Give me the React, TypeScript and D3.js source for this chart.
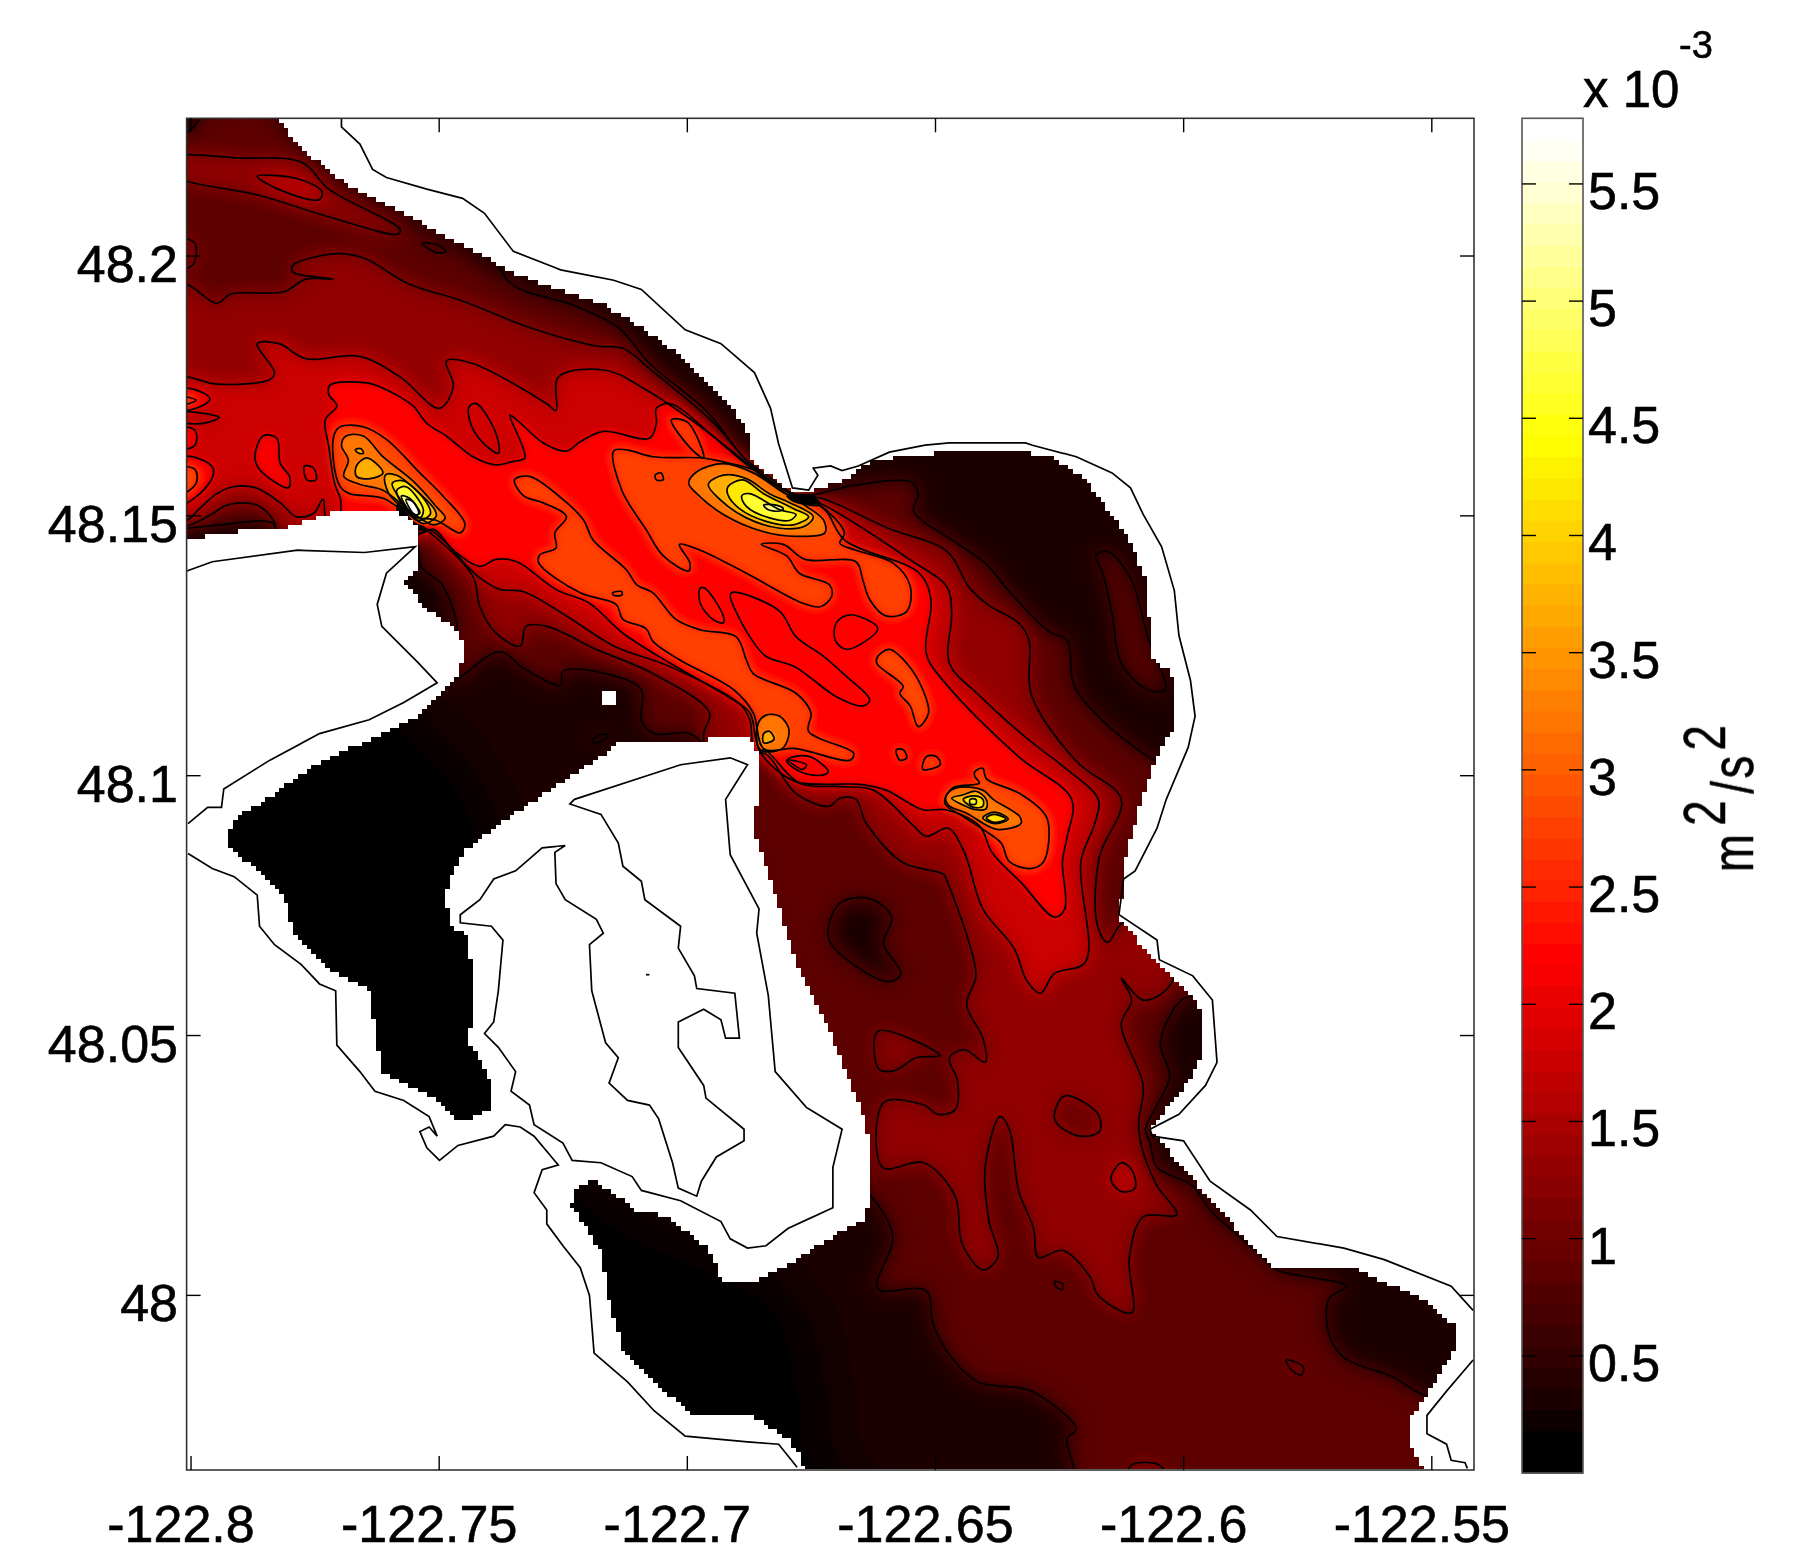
import React, { useMemo } from "react";
import * as d3 from "d3";

type P = [number, number];

// All rings are in model-grid units (1 unit = 1/4302.4 deg lon, 1/4505 deg lat).
const xTicks = [-122.8, -122.75, -122.7, -122.65, -122.6, -122.55];
const xTickLabels = ["-122.8", "-122.75", "-122.7", "-122.65", "-122.6", "-122.55"];
const yTicks = [48.2, 48.15, 48.1, 48.05, 48];
const yTickLabels = ["48.2", "48.15", "48.1", "48.05", "48"];
const barTicks = [0.5, 1, 1.5, 2, 2.5, 3, 3.5, 4, 4.5, 5, 5.5];
const barTickLabels = ["0.5", "1", "1.5", "2", "2.5", "3", "3.5", "4", "4.5", "5", "5.5"];

const waterRing: P[] = [[155,95],[236,95],[242,104],[261,129],[300,160],[347,183],[378,201],[409,216],[443,236],[490,253],[521,263],[556,284],[594,311],[629,346],[648,373],[652,400],[687,427],[701,427],[732,416],[751,402],[786,395],[825,392],[891,392],[914,397],[941,416],[960,441],[980,470],[993,501],[999,570],[1014,582],[1019,593],[1019,628],[1003,655],[991,690],[987,702],[976,743],[970,797],[1003,834],[1038,867],[1042,880],[1042,917],[1022,950],[995,979],[1003,987],[1026,1012],[1042,1032],[1080,1074],[1107,1101],[1177,1101],[1235,1127],[1264,1152],[1264,1165],[1239,1206],[1221,1231],[1221,1252],[1239,1280],[697,1280],[695,1264],[683,1247],[652,1227],[629,1227],[598,1225],[567,1198],[540,1169],[528,1128],[521,1086],[496,1045],[501,1026],[517,1024],[552,1049],[579,1055],[614,1082],[627,1113],[652,1113],[672,1103],[737,1063],[751,1057],[753,1037],[755,1012],[751,975],[732,925],[717,888],[693,842],[652,714],[658,693],[658,652],[648,640],[580,642],[540,642],[517,659],[490,676],[440,710],[401,739],[387,772],[389,801],[407,813],[410,871],[407,904],[426,937],[424,962],[409,970],[393,970],[378,954],[331,929],[320,859],[289,842],[254,809],[246,776],[223,755],[196,731],[203,710],[231,693],[273,663],[323,640],[362,621],[397,586],[403,563],[397,547],[370,528],[350,505],[364,489],[364,458],[350,446],[331,441],[292,443],[246,458],[192,462],[155,469]];
const islandRing: P[] = [[521,600],[526,598],[531,598],[536,602],[536,608],[531,612],[526,612],[521,608]];

const coastNorth: P[] = [[296,103],[296,110],[312,125],[323,147],[335,154],[370,164],[401,172],[420,185],[445,218],[486,234],[532,243],[556,251],[594,286],[625,298],[654,323],[668,354],[675,385],[687,423],[701,425],[709,412],[705,406],[720,404],[730,408],[744,404],[771,392],[802,386],[823,384],[889,384],[895,386],[933,396],[964,410],[980,423],[991,446],[1007,474],[1018,512],[1022,551],[1032,590],[1036,621],[1030,648],[1011,693],[1003,718],[984,755],[974,762],[970,793],[1003,815],[1005,832],[1034,846],[1051,867],[1055,921],[1045,941],[1022,966],[997,979],[999,985],[1026,989],[1049,1024],[1084,1049],[1107,1072],[1165,1082],[1200,1092],[1258,1115],[1277,1136]];
const coastEast: P[] = [[1277,1179],[1254,1206],[1237,1227],[1237,1243],[1254,1252],[1258,1266],[1270,1268],[1272,1273]];
const coastWestA: P[] = [[162,495],[184,487],[258,477],[316,479],[360,474],[335,497],[327,524],[331,543],[362,574],[379,592],[350,609],[320,624],[277,636],[234,659],[194,684],[192,700],[180,700],[163,714]];
const coastWestB: P[] = [[163,740],[184,753],[203,760],[223,776],[225,803],[238,819],[261,836],[277,853],[291,859],[292,906],[312,929],[325,946],[350,954],[372,968],[379,985],[372,977],[364,981],[370,995],[381,1006],[397,993],[428,985],[438,975],[451,977],[463,985],[484,1010],[470,1014],[463,1034],[474,1049],[474,1061],[488,1080],[503,1099],[511,1123],[515,1173],[544,1198],[567,1223],[594,1245],[648,1250],[675,1252],[691,1272]];
const landLoop: P[] = [[490,733],[470,735],[447,755],[428,762],[416,780],[399,793],[399,800],[426,803],[436,815],[432,859],[428,886],[420,896],[432,908],[447,929],[443,946],[459,958],[463,975],[488,991],[496,1006],[521,1008],[548,1020],[556,1032],[590,1041],[625,1059],[633,1074],[648,1082],[664,1080],[683,1065],[722,1047],[722,1012],[730,979],[699,960],[672,929],[666,863],[656,809],[658,788],[633,741],[629,693],[648,663],[633,657],[590,663],[498,693],[494,697],[521,706],[536,731],[540,751],[556,764],[559,780],[590,803],[588,822],[602,846],[604,857],[637,861],[641,900],[629,900],[625,884],[610,875],[588,886],[588,908],[610,941],[612,952],[645,979],[645,989],[621,1003],[608,1024],[604,1037],[588,1030],[583,1008],[571,970],[563,958],[544,954],[528,939],[536,917],[525,904],[513,859],[511,819],[523,809],[517,797],[490,780],[482,766],[481,739],[490,733]];
const speck: P[] = [[560,845],[563,845]];

const shadeRing: P[] = [[150,110],[1290,110],[1290,1290],[740,1290],[715,1200],[690,1120],[500,1010],[440,800],[435,720],[420,680],[390,640],[350,610],[340,560],[360,480],[150,470]];
const coastShadeNorth: P[] = [[236,95],[262,133],[289,157],[331,184],[378,207],[443,246],[458,232],[400,198],[340,168],[280,130],[252,95]];

const c05Main: P[] = [[150,118],[163,114],[172,104],[172,95],[236,88],[300,148],[350,172],[420,210],[443,246],[498,265],[536,284],[563,315],[614,358],[645,397],[665,412],[690,429],[705,429],[739,421],[790,418],[796,428],[792,443],[828,470],[855,489],[875,513],[910,548],[925,555],[931,594],[956,625],[995,656],[1010,665],[1000,700],[990,790],[1020,830],[1045,860],[1024,867],[1006,904],[1014,933],[1003,958],[993,979],[997,991],[1003,1012],[1034,1028],[1049,1049],[1072,1070],[1095,1090],[1107,1101],[1167,1115],[1152,1126],[1152,1157],[1165,1177],[1208,1194],[1231,1208],[1290,1230],[1290,1290],[930,1290],[931,1274],[925,1247],[933,1239],[894,1206],[848,1198],[825,1177],[809,1148],[803,1119],[761,1117],[774,1072],[755,1037],[745,1030],[612,650],[598,636],[567,636],[556,625],[556,598],[525,584],[488,582],[486,594],[455,580],[433,565],[396,589],[392,589],[392,549],[396,546],[384,508],[365,491],[360,470],[240,470],[237,454],[191,455],[162,458],[150,458]];
const c05East: P[] = [[950,482],[960,478],[980,501],[995,552],[1010,598],[995,598],[972,575],[964,532],[956,497]];
const c05Spot: P[] = [[513,643],[520,637],[527,637],[524,641],[516,644]];
const c05HoleA: P[] = [[728,783],[754,779],[773,795],[766,818],[781,844],[771,851],[734,832],[718,812]];
const c05HoleB: P[] = [[366,211],[378,212],[387,218],[378,219]];

const c10Main: P[] = [[150,247],[163,247],[188,263],[200,255],[246,253],[265,242],[289,242],[254,236],[254,230],[292,220],[316,224],[354,246],[401,261],[459,284],[517,300],[540,302],[567,323],[618,366],[648,400],[672,420],[690,430],[712,432],[770,458],[821,478],[840,509],[856,524],[883,540],[892,555],[894,602],[933,660],[972,693],[953,743],[951,801],[960,817],[972,801],[990,795],[1020,830],[1012,857],[991,867],[972,848],[981,867],[972,888],[991,941],[987,975],[991,999],[1003,1028],[1020,1053],[991,1055],[979,1090],[981,1138],[952,1123],[945,1107],[921,1084],[900,1090],[896,1065],[883,1032],[875,979],[867,968],[854,1012],[857,1057],[865,1090],[852,1101],[834,1078],[828,1037],[801,1008],[765,1012],[766,956],[801,958],[813,966],[828,962],[830,937],[823,917],[836,910],[854,921],[852,900],[838,871],[846,846],[840,817],[821,764],[818,758],[783,748],[751,714],[742,693],[728,692],[719,699],[690,688],[662,653],[640,660],[612,648],[610,636],[615,618],[566,584],[517,563],[474,543],[456,543],[451,560],[430,549],[416,526],[410,500],[373,462],[364,456],[350,470],[245,470],[237,451],[225,439],[211,436],[194,439],[185,445],[162,456],[150,456]];
const c10Top: P[] = [[150,137],[207,137],[262,141],[285,164],[347,199],[345,203],[285,188],[227,170],[150,151]];
const c10Edge: P[] = [[155,207],[169,211],[167,230],[155,232]];
const c10IslandA: P[] = [[761,894],[815,915],[794,917],[776,928],[762,927]];
const c10IslandB: P[] = [[914,1111],[921,1113],[921,1118],[916,1116]];
const c10IslandC: P[] = [[1115,1179],[1130,1185],[1128,1192],[1119,1187]];
const c10IslandD: P[] = [[981,1270],[1005,1270],[1010,1280],[978,1280]];
const c10Hole: P[] = [[923,950],[952,966],[953,981],[937,985],[917,975],[914,966]];

const c15Main: P[] = [[163,327],[188,333],[234,329],[238,323],[223,298],[242,298],[265,311],[312,309],[347,327],[381,354],[393,335],[387,313],[409,315],[474,350],[482,356],[484,327],[525,321],[560,338],[606,369],[648,402],[683,429],[708,435],[790,486],[821,509],[825,532],[823,575],[848,602],[890,640],[921,664],[952,693],[949,714],[937,747],[941,834],[914,844],[902,861],[890,850],[879,822],[852,788],[836,739],[822,718],[803,725],[792,716],[757,685],[728,682],[693,679],[662,650],[655,655],[652,642],[650,624],[641,610],[581,578],[532,560],[491,534],[454,513],[433,511],[416,501],[404,490],[384,468],[371,459],[362,464],[285,455],[280,433],[272,445],[257,448],[243,436],[222,423],[202,422],[188,428],[173,441],[162,451],[150,451],[150,327]];
const c15Top: P[] = [[223,153],[258,155],[279,166],[277,173],[246,166]];
const c15IslandA: P[] = [[972,1008],[981,1014],[984,1030],[972,1033],[963,1022]];
const c15EdgeHole: P[] = [[155,358],[190,362],[176,367],[155,365]];

const c20Main: P[] = [[286,334],[318,332],[335,338],[358,352],[370,367],[387,378],[410,396],[430,403],[445,400],[455,397],[442,360],[448,364],[471,384],[491,391],[503,383],[523,374],[563,380],[569,367],[569,354],[581,350],[618,378],[650,405],[687,428],[700,432],[716,443],[732,468],[797,497],[807,520],[803,567],[821,594],[883,656],[929,693],[925,726],[921,747],[923,788],[914,795],[886,766],[860,739],[849,716],[820,702],[800,702],[768,685],[745,680],[716,680],[688,677],[659,652],[650,618],[636,607],[581,575],[540,549],[511,523],[482,511],[448,487],[430,485],[416,491],[393,477],[376,459],[365,462],[350,455],[298,450],[295,432],[290,419],[285,387],[282,364],[292,352],[285,342]];
const c20HoleLoop: P[] = [[407,352],[413,350],[430,376],[432,393],[416,381],[407,364]];
const c20HoleBig: P[] = [[634,514],[641,514],[676,530],[690,552],[714,569],[731,584],[754,607],[748,612],[725,604],[689,578],[664,569],[650,552],[633,517]];
const c20HoleSmall: P[] = [[725,540],[737,533],[761,545],[734,563],[724,555]];
const c20HoleTail: P[] = [[685,657],[702,656],[718,669],[713,672],[696,670],[682,660]];
const c20BlobA: P[] = [[221,396],[228,378],[240,380],[243,402],[251,413],[250,423],[225,407]];
const c20BlobB: P[] = [[264,404],[272,406],[274,416],[266,416]];
const c20EdgeA: P[] = [[155,338],[170,338],[182,346],[170,354],[155,355]];
const c20EdgeB: P[] = [[155,371],[169,373],[169,386],[155,389]];
const c20EdgeC: P[] = [[155,397],[176,399],[185,407],[179,422],[155,438]];
const c10Tail: P[] = [[683,659],[699,663],[696,667],[688,663]];

const c25Tongue: P[] = [[446,416],[459,413],[488,433],[506,451],[514,468],[543,494],[552,507],[566,514],[586,537],[607,546],[638,552],[647,572],[653,584],[690,601],[703,618],[701,634],[740,653],[737,659],[690,649],[662,649],[653,618],[636,598],[589,572],[566,556],[560,545],[540,537],[534,524],[503,514],[467,488],[468,481],[482,475],[481,462],[491,448],[471,436],[454,430]];
const c25Core: P[] = [[532,391],[543,390],[566,396],[608,397],[625,400],[655,408],[680,425],[700,432],[716,442],[732,462],[728,471],[742,477],[774,488],[789,508],[786,530],[768,534],[754,520],[748,503],[742,487],[698,485],[679,472],[660,472],[682,482],[693,497],[719,507],[721,517],[711,526],[696,523],[647,497],[607,477],[589,472],[598,488],[597,495],[575,482],[560,459],[539,425]];
const c25Tip: P[] = [[582,364],[596,366],[610,397],[600,390]];
const c25Blob: P[] = [[761,569],[771,563],[786,575],[800,598],[805,618],[796,630],[789,612],[780,601],[783,595],[760,575]];
const c25DotA: P[] = [[777,650],[783,650],[786,657],[780,659]];
const c25DotB: P[] = [[803,656],[812,656],[815,663],[800,667]];
const c25DotC: P[] = [[568,412],[573,410],[575,416],[569,416]];
const c25DotD: P[] = [[531,514],[539,513],[539,516],[532,516]];
const c25Slit: P[] = [[607,510],[611,510],[627,534],[627,540],[618,537],[607,523]];
const c25West: P[] = [[290,376],[295,370],[315,370],[335,381],[364,410],[384,430],[403,454],[399,462],[378,451],[358,448],[332,432],[303,428],[295,422],[289,399]];
const c25East: P[] = [[845,669],[852,666],[855,675],[884,688],[907,708],[909,731],[904,748],[893,753],[875,747],[868,731],[855,721],[835,708],[819,696],[826,683],[849,679],[845,673]];
const c25EdgeA: P[] = [[155,344],[170,347],[155,351]];
const c25EdgeB: P[] = [[155,406],[169,407],[170,419],[155,429]];

const c30North: P[] = [[597,419],[604,409],[627,402],[653,410],[676,425],[699,439],[714,451],[715,462],[690,465],[662,461],[627,446],[604,428]];
const c30West: P[] = [[296,386],[300,378],[315,378],[332,396],[358,417],[378,439],[386,449],[376,455],[358,445],[332,425],[312,420],[298,413],[302,399]];
const c30East: P[] = [[820,690],[829,683],[852,685],[861,693],[884,708],[885,714],[864,719],[838,705],[822,698]];
const c30Tip: P[] = [[657,628],[664,620],[676,621],[684,633],[678,649],[659,650]];

const c35North: P[] = [[614,420],[627,412],[647,415],[667,428],[685,436],[705,448],[698,456],[676,458],[647,449],[624,433]];
const c35WestA: P[] = [[309,404],[318,397],[332,410],[321,415],[309,413]];
const c35WestDot: P[] = [[308,390],[313,389],[315,393],[311,393]];
const c35WestB: P[] = [[334,412],[344,412],[364,428],[377,442],[378,448],[367,454],[355,445],[337,428]];
const c35East: P[] = [[825,692],[835,689],[846,686],[855,693],[855,701],[846,702],[835,698]];
const c35EastB: P[] = [[852,709],[862,704],[874,710],[862,714]];
const c35Tip: P[] = [[662,636],[667,634],[671,641],[662,644]];

const c40North: P[] = [[631,422],[644,416],[662,428],[688,441],[701,448],[688,455],[664,452],[641,441],[631,429]];
const c40West: P[] = [[340,419],[350,417],[370,436],[373,446],[361,451],[347,433]];
const c40East: P[] = [[835,693],[844,690],[852,693],[852,699],[844,700]];
const c40EastB: P[] = [[855,709],[862,706],[872,710],[862,713]];

const c45North: P[] = [[643,430],[650,428],[676,442],[690,446],[685,451],[667,449],[647,439]];
const c45West: P[] = [[344,425],[352,422],[367,442],[364,449],[352,442]];
const c45East: P[] = [[841,693],[846,693],[846,697],[841,697]];

const c50North: P[] = [[662,438],[673,438],[679,441],[676,443],[666,442]];
const c50West: P[] = [[348,430],[355,432],[364,445],[358,446]];
const c55West: P[] = [[352,433],[358,435],[363,445],[360,447]];

const blackPinchA: P[] = [[682,430],[705,430],[711,438],[688,435]];
const blackPinchB: P[] = [[345,436],[358,452],[370,459],[360,459],[345,447]];

// [fill value in 1e-3 m^2/s^2, ring]
const contourTable: [number, P[]][] = [
  [0.85, c05Main], [0.8, c05East], [0.8, c05Spot], [0.35, c05HoleA], [0.35, c05HoleB],
  [1.3, c10Main], [1.3, c10Top], [1.25, c10Edge], [1.2, c10IslandA], [1.2, c10IslandB], [1.2, c10IslandC], [1.2, c10IslandD], [0.95, c10Hole],
  [1.78, c15Main], [1.75, c15Top], [1.7, c15IslandA], [1.4, c15EdgeHole],
  [2.2, c20Main], [1.85, c20HoleLoop], [1.8, c20HoleBig], [1.85, c20HoleSmall], [1.7, c20HoleTail], [1.0, c10Tail], [2.15, c20BlobA], [2.1, c20BlobB], [2.2, c20EdgeA], [2.15, c20EdgeB], [2.2, c20EdgeC],
  [2.75, c25Tongue], [2.75, c25Core], [2.7, c25Tip], [2.8, c25Blob], [2.7, c25DotA], [2.7, c25DotB], [2.7, c25DotC], [2.7, c25DotD], [2.35, c25Slit], [2.8, c25West], [2.8, c25East], [2.8, c25EdgeA], [2.8, c25EdgeB],
  [3.2, c30North], [3.2, c30West], [3.2, c30East], [3.2, c30Tip],
  [3.7, c35North], [3.7, c35WestA], [3.7, c35WestDot], [3.7, c35WestB], [3.7, c35East], [3.7, c35EastB], [3.7, c35Tip],
  [4.2, c40North], [4.2, c40West], [4.2, c40East], [4.2, c40EastB],
  [4.65, c45North], [4.65, c45West], [4.65, c45East],
  [5.1, c50North], [5.1, c50West], [5.7, c55West],
];

const W = 1809, H = 1548;
const FONT = "'Liberation Sans', Arial, sans-serif";
const lonOf = (g: number) => -122.8 + ((g - 165.6) / 1075.6) * 0.25;
const latOf = (g: number) => 48.2 - ((g - 222) / 901) * 0.2;
const x = d3.scaleLinear().domain([-122.80089, -122.5415]).range([186.6, 1474]);
const y = d3.scaleLinear().domain([48.2265, 47.9664]).range([118.3, 1470]);
const bar = d3.scaleLinear().domain([0, 5.78]).range([1473, 118.3]);
const heat = d3.scaleLinear<string>().domain([0.1, 2.2, 4.4, 5.7]).range(["#000000", "#ff0000", "#ffff00", "#ffffff"]).clamp(true);
const px = (p: P): [number, number] => [x(lonOf(p[0])), y(latOf(p[1]))];
const openLine = d3.line<P>().x((p) => px(p)[0]).y((p) => px(p)[1]);
const closedCurve = d3.line<P>().x((p) => px(p)[0]).y((p) => px(p)[1]).curve(d3.curveCatmullRomClosed.alpha(0.5));

function blockyWater(): string {
  const cell = 4;
  let d = "";
  for (let gy = 103; gy < 1273; gy += cell) {
    let start: number | null = null;
    for (let gx = 162; gx <= 1278; gx += cell) {
      const c: P = [gx + cell / 2, gy + cell / 2];
      const inside = gx < 1278 && d3.polygonContains(waterRing, c) && !d3.polygonContains(islandRing, c);
      if (inside && start === null) start = gx;
      if (!inside && start !== null) {
        const [x0, y0] = px([start, gy]);
        const [x1, y1] = px([Math.min(gx, 1277.4), Math.min(gy + cell, 1273.6)]);
        d += `M${Math.round(x0)} ${Math.round(y0)}H${Math.round(x1)}V${Math.round(y1)}H${Math.round(x0)}Z`;
        start = null;
      }
    }
  }
  return d;
}

export default function App() {
  const clip = useMemo(blockyWater, []);
  const rows = d3.range(64);
  const rowH = (bar(0) - bar(5.78)) / 64;
  const low = contourTable.filter((c) => c[0] < 2);
  const mid = contourTable.filter((c) => c[0] >= 2 && c[0] < 3);
  const high = contourTable.filter((c) => c[0] >= 3);
  const fx = x.range()[0], fy = y.range()[0], fw = x.range()[1] - fx, fh = y.range()[1] - fy;
  const ink = { stroke: "#000", strokeWidth: 0.6 };
  return (
    <svg width={W} height={H} viewBox={`0 0 ${W} ${H}`} style={{ position: "absolute", left: 0, top: 0, background: "#fff" }} fontFamily={FONT}>
      <defs>
        <clipPath id="water"><path d={clip} /></clipPath>
        <filter id="broad" filterUnits="userSpaceOnUse" x={0} y={0} width={W} height={H}><feGaussianBlur stdDeviation={32} /></filter>
        <filter id="softest" filterUnits="userSpaceOnUse" x={0} y={0} width={W} height={H}><feGaussianBlur stdDeviation={10} /></filter>
        <filter id="soft" filterUnits="userSpaceOnUse" x={0} y={0} width={W} height={H}><feGaussianBlur stdDeviation={5} /></filter>
        <filter id="softer" filterUnits="userSpaceOnUse" x={0} y={0} width={W} height={H}><feGaussianBlur stdDeviation={1.8} /></filter>
        <filter id="ink" filterUnits="userSpaceOnUse" x={0} y={0} width={W} height={H}><feGaussianBlur stdDeviation={0.55} /></filter>
      </defs>
      <g clipPath="url(#water)">
        <rect x={fx} y={fy} width={fw} height={fh} fill="#000" />
        <g filter="url(#broad)">
          <path d={closedCurve(shadeRing) || ""} fill={heat(0.32)} />
        </g>
        <g filter="url(#softest)">
          {low.map(([v, ring], i) => <path key={i} d={closedCurve(ring) || ""} fill={heat(v)} />)}
          <path d={closedCurve(coastShadeNorth) || ""} fill={heat(0.35)} />
        </g>
        <g filter="url(#soft)">
          {mid.map(([v, ring], i) => <path key={i} d={closedCurve(ring) || ""} fill={heat(v)} />)}
        </g>
        <g filter="url(#softer)">
          {high.map(([v, ring], i) => <path key={i} d={closedCurve(ring) || ""} fill={heat(v)} />)}
        </g>
        <g filter="url(#ink)">
          {contourTable.map(([, ring], i) => <path key={i} d={closedCurve(ring) || ""} fill="none" stroke="#000" strokeWidth={1.7} />)}
          {[blackPinchA, blackPinchB].map((ring, i) => <path key={i} d={closedCurve(ring) || ""} fill="#000" stroke="#000" />)}
        </g>
      </g>
      <g filter="url(#ink)">
        {[coastNorth, coastEast, coastWestA, coastWestB, landLoop, speck].map((ring, i) => (
          <path key={i} d={openLine(ring) || ""} fill="none" stroke="#000" strokeWidth={1.7} />
        ))}
        <rect x={fx} y={fy} width={fw} height={fh} fill="none" stroke="#333" strokeWidth={1.6} />
        {xTicks.map((t, i) => (
          <g key={t}>
            <line x1={x(t)} x2={x(t)} y1={fy} y2={fy + 14} stroke="#000" strokeWidth={1.4} />
            <line x1={x(t)} x2={x(t)} y1={fy + fh} y2={fy + fh - 14} stroke="#000" strokeWidth={1.4} />
            <text x={x(t) - 10} y={1542} fontSize={52} textAnchor="middle" {...ink}>{xTickLabels[i]}</text>
          </g>
        ))}
        {yTicks.map((t, i) => (
          <g key={t}>
            <line x1={fx} x2={fx + 14} y1={y(t)} y2={y(t)} stroke="#000" strokeWidth={1.4} />
            <line x1={fx + fw} x2={fx + fw - 14} y1={y(t)} y2={y(t)} stroke="#000" strokeWidth={1.4} />
            <text x={178} y={y(t) + 26} fontSize={52} textAnchor="end" {...ink}>{yTickLabels[i]}</text>
          </g>
        ))}
        {rows.map((i) => {
          const v0 = (i * 5.78) / 64;
          return <rect key={i} x={1522} y={bar(v0) - rowH - 0.5} width={61} height={rowH + 1} fill={heat(v0 + 5.78 / 128)} />;
        })}
        <rect x={1522} y={118.3} width={61} height={1354.7} fill="none" stroke="#555" strokeWidth={1.6} />
        {barTicks.map((t, i) => (
          <g key={t}>
            <line x1={1522} x2={1536} y1={bar(t)} y2={bar(t)} stroke="#000" strokeWidth={1.4} />
            <line x1={1583} x2={1569} y1={bar(t)} y2={bar(t)} stroke="#000" strokeWidth={1.4} />
            <text x={1588} y={bar(t) + 25} fontSize={52} {...ink}>{barTickLabels[i]}</text>
          </g>
        ))}
        <text x={1583} y={107} fontSize={51} {...ink}>x 10</text>
        <text x={1679} y={58} fontSize={38} {...ink}>-3</text>
        <g transform="translate(1753,872) rotate(-90) scale(0.76,1)" fontSize={60} {...ink}>
          <text x={0} y={0}>m</text>
          <text x={61} y={-28}>2</text>
          <text x={103} y={0}>/</text>
          <text x={123} y={0}>s</text>
          <text x={160} y={-28}>2</text>
        </g>
      </g>
    </svg>
  );
}
